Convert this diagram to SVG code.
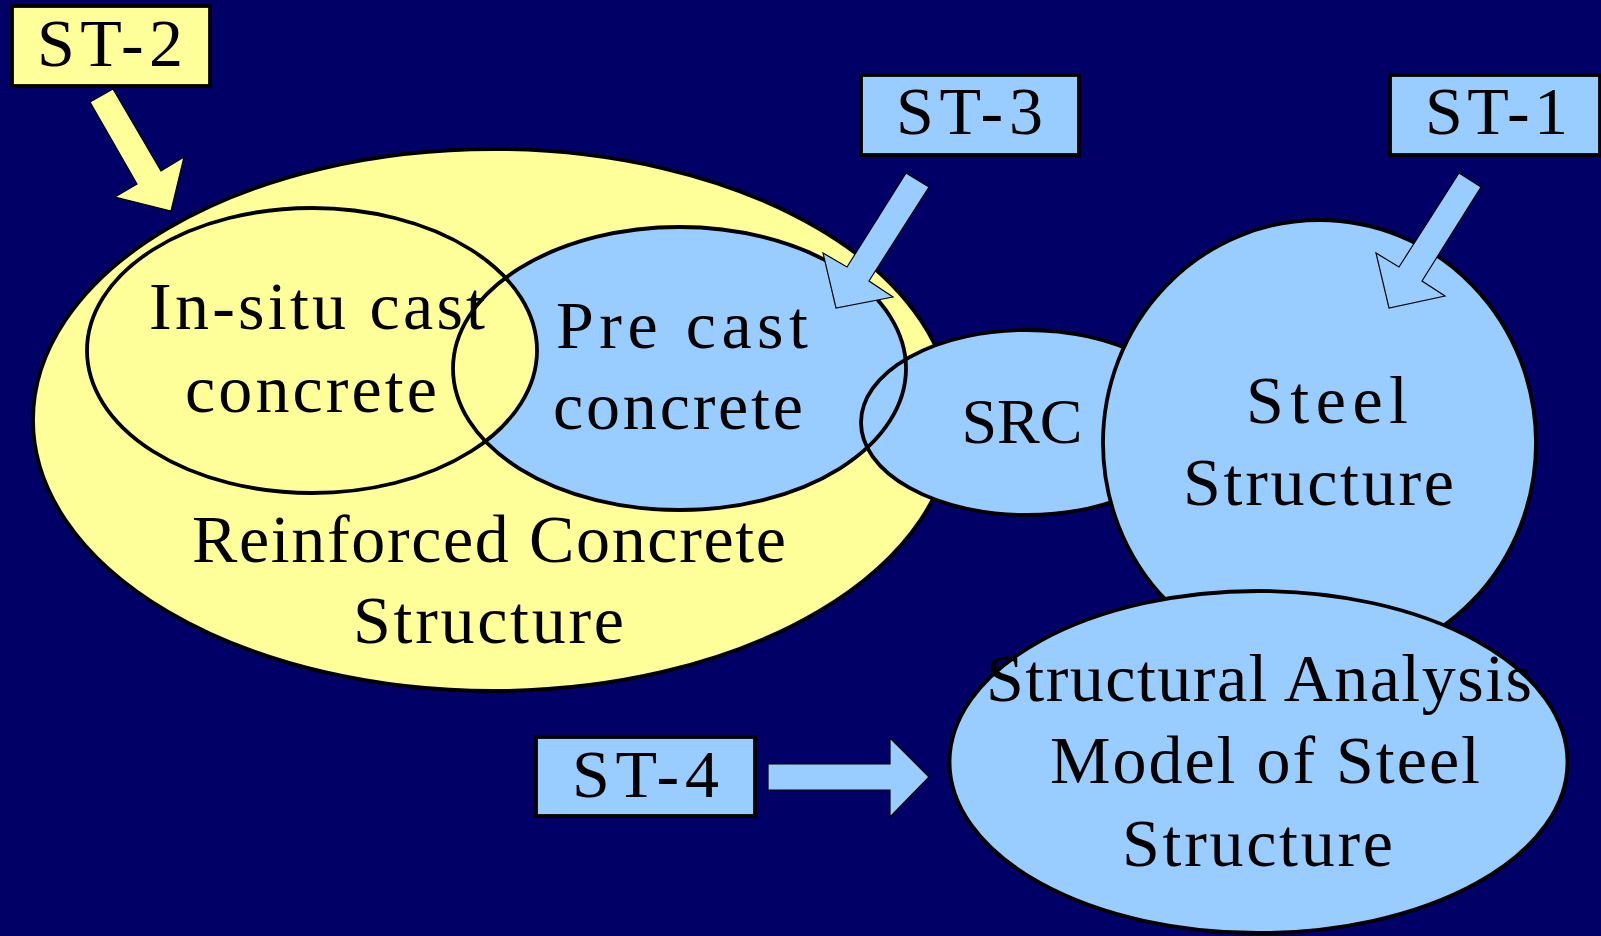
<svg xmlns="http://www.w3.org/2000/svg" width="1601" height="936" viewBox="0 0 1601 936">
<style>
.bg{fill:#000066}
.y{fill:#FFFF99}
.b{fill:#99CCFF}
.ol{stroke:#000;stroke-width:3.8}
.nf{fill:none;stroke:#000;stroke-width:3.8}
.box{stroke:#000;stroke-width:3.8}
.arr{stroke:#000;stroke-width:1.2;stroke-linejoin:miter}
text{font-family:"Liberation Serif","Times New Roman",serif;font-size:68px;fill:#000}
</style>
<rect class="bg" x="0" y="0" width="1601" height="936"/>

<g id="rc-structure">
<ellipse class="y ol" cx="493" cy="420" rx="460" ry="271"/>
<text x="192" y="562" textLength="594" lengthAdjust="spacing">Reinforced Concrete</text>
<text x="353" y="643" textLength="271" lengthAdjust="spacing">Structure</text>
</g>

<g id="precast">
<ellipse class="b" cx="679.5" cy="368.5" rx="226.5" ry="141.5"/>
</g>
<g id="insitu">
<ellipse class="y" cx="312" cy="350.5" rx="225" ry="142.5"/>
</g>
<g id="src">
<ellipse class="b" cx="1027" cy="422.5" rx="166" ry="92.5"/>
</g>
<g id="outlines">
<ellipse class="nf" cx="312" cy="350.5" rx="225" ry="142.5"/>
<ellipse class="nf" cx="679.5" cy="368.5" rx="226.5" ry="141.5"/>
<ellipse class="nf" cx="1027" cy="422.5" rx="166" ry="92.5"/>
</g>
<g id="labels-inner">
<text x="149" y="329" textLength="336" lengthAdjust="spacing">In-situ cast</text>
<text x="185" y="412" textLength="252" lengthAdjust="spacing">concrete</text>
<text x="556" y="348" textLength="252" lengthAdjust="spacing">Pre cast</text>
<text x="553" y="429" textLength="250" lengthAdjust="spacing">concrete</text>
<text x="1022" y="443" text-anchor="middle" style="font-size:64px">SRC</text>
</g>

<g id="steel">
<ellipse class="b ol" cx="1319.5" cy="443" rx="216.5" ry="223"/>
<text x="1246" y="423" textLength="162" lengthAdjust="spacing">Steel</text>
<text x="1183" y="505" textLength="271" lengthAdjust="spacing">Structure</text>
</g>

<g id="analysis">
<ellipse class="b ol" cx="1258.5" cy="762" rx="309" ry="171"/>
<text x="986" y="701" textLength="546" lengthAdjust="spacing">Structural Analysis</text>
<text x="1050" y="783" textLength="430" lengthAdjust="spacing">Model of Steel</text>
<text x="1122" y="866" textLength="271" lengthAdjust="spacing">Structure</text>
</g>

<g id="connectors">
<polygon class="y arr" points="113,89 161,171 184,157 171,211 115,197 137,184 90,102"/>
<polygon class="b arr" points="906,173 929,187 869,281 893,297 836,308 823,253 847,267"/>
<polygon class="b arr" points="1459,173 1481,187 1422,281 1445,296 1389,308 1376,253 1399,267"/>
<polygon class="b arr" points="768,764 890,764 890,738 929,777 890,817 890,790 768,790"/>
</g>

<g id="st2">
<rect class="y box" x="12" y="6" width="198" height="80"/>
<text x="37" y="66" textLength="146" lengthAdjust="spacing">ST-2</text>
</g>
<g id="st3">
<rect class="b box" x="861" y="75" width="218" height="80"/>
<text x="896" y="134" textLength="147" lengthAdjust="spacing">ST-3</text>
</g>
<g id="st1">
<rect class="b box" x="1390" y="75" width="210" height="80"/>
<text x="1425" y="134" textLength="143" lengthAdjust="spacing">ST-1</text>
</g>
<g id="st4">
<rect class="b box" x="536" y="737" width="219" height="79"/>
<text x="572" y="797" textLength="147" lengthAdjust="spacing">ST-4</text>
</g>
</svg>
